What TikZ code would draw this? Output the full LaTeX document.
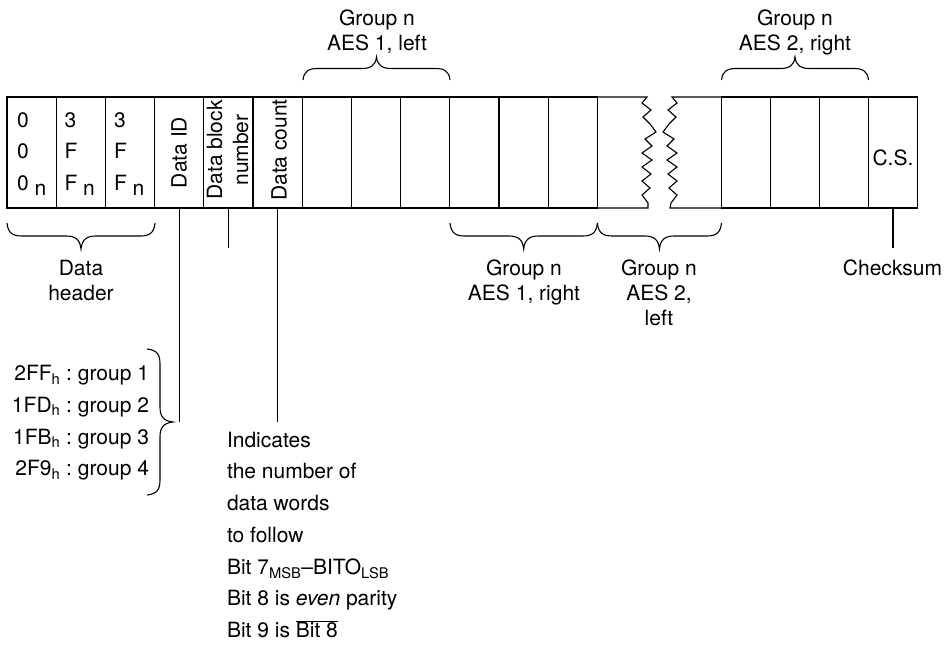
\documentclass[tikz,border=0pt]{standalone}
\usepackage{fontspec}
\setmainfont{TeX Gyre Heros}
\newcommand{\mystack}[2][0.962]{{\def\arraystretch{#1}\begin{tabular}[t]{@{}c@{}}#2\end{tabular}}}
\newcommand{\mystackl}[2][1.23]{{\def\arraystretch{#1}\begin{tabular}[t]{@{}l@{}}#2\end{tabular}}}
% horizontal brace: x1, x2, y of ends, signed height
\newcommand{\myhbrace}[4]{%
  \draw (#1,#3) .. controls ({#1+1},{#3+0.4*(#4)}) and ({#1+6},{#3+0.5*(#4)}) .. ({#1+15},{#3+0.5*(#4)})
   -- ({(#1+#2)/2-15},{#3+0.5*(#4)}) .. controls ({(#1+#2)/2-6},{#3+0.5*(#4)}) and ({(#1+#2)/2-1},{#3+0.62*(#4)}) .. ({(#1+#2)/2},{#3+(#4)})
   .. controls ({(#1+#2)/2+1},{#3+0.62*(#4)}) and ({(#1+#2)/2+6},{#3+0.5*(#4)}) .. ({(#1+#2)/2+15},{#3+0.5*(#4)})
   -- ({#2-15},{#3+0.5*(#4)}) .. controls ({#2-6},{#3+0.5*(#4)}) and ({#2-1},{#3+0.4*(#4)}) .. (#2,#3);}
% vertical brace: y1, y2, x of ends, signed width
\newcommand{\myvbrace}[4]{%
  \draw (#3,#1) .. controls ({#3+0.4*(#4)},{#1+1}) and ({#3+0.5*(#4)},{#1+6}) .. ({#3+0.5*(#4)},{#1+15})
   -- ({#3+0.5*(#4)},{(#1+#2)/2-15}) .. controls ({#3+0.5*(#4)},{(#1+#2)/2-6}) and ({#3+0.62*(#4)},{(#1+#2)/2-1}) .. ({#3+(#4)},{(#1+#2)/2})
   .. controls ({#3+0.62*(#4)},{(#1+#2)/2+1}) and ({#3+0.5*(#4)},{(#1+#2)/2+6}) .. ({#3+0.5*(#4)},{(#1+#2)/2+15})
   -- ({#3+0.5*(#4)},{#2-15}) .. controls ({#3+0.5*(#4)},{#2-6}) and ({#3+0.4*(#4)},{#2-1}) .. (#3,#2);}
\begin{document}
\begin{tikzpicture}[x=1pt,y=-1pt,line width=1.1pt,
  every node/.style={font=\fontsize{21}{26}\selectfont, inner sep=0pt, outer sep=0pt},
  cellbox/.style={draw, minimum width=49.2pt, minimum height=111pt, anchor=north west},
  cellboxb/.style={draw, minimum width=49pt, minimum height=111pt, anchor=north west},
  lbl/.style={anchor=base},
  vtext/.style={rotate=90, anchor=base}]
\useasboundingbox (0,0) rectangle (948,645);

% cells
\foreach \i/\nm in {0/h1,1/h2,2/h3,3/did,4/dbn,5/dcnt,6/a1,7/a2,8/a3,9/a4,10/a5,11/a6}
  \node[cellbox] (\nm) at ({7+\i*49.2},97) {};
\foreach \i/\nm in {0/b1,1/b2,2/b3,3/cs}
  \node[cellboxb] (\nm) at ({721.5+\i*49},97) {};

% broken cell
\draw (a6.north east) -- (647,97) -- (642,103) -- (651,110) -- (643,117) -- (650,124) -- (656,132)
  -- (645,139) -- (652,146) -- (642,153) -- (652,160) -- (642,167) -- (651,174) -- (642,181)
  -- (650,188) -- (642,195) -- (648,203) -- (648,208) -- (a6.south east);
\draw (b1.north west) -- (672,97) -- (677,103) -- (668,110) -- (676,117) -- (669,124) -- (663,132)
  -- (674,139) -- (667,146) -- (677,153) -- (667,160) -- (677,167) -- (668,174) -- (677,181)
  -- (669,188) -- (677,195) -- (671,203) -- (670,208) -- (b1.south west);

% cell texts
\node[anchor=base west] (t1) at (17,127) {\mystackl{0\\0\\0 \raisebox{-5pt}{n}}};
\node[anchor=base west] (t2) at (64.5,127) {\mystackl{3\\F\\F \raisebox{-5pt}{n}}};
\node[anchor=base west] (t3) at (114,127) {\mystackl{3\\F\\F \raisebox{-5pt}{n}}};
\node[vtext] (tid) at (186.7,152.5) {Data ID};
\node[vtext] (tdbn) at (222,150) {\mystack[1]{Data block\\number}};
\node[vtext] (tdc) at (286.5,150) {Data count};
\node[anchor=base west] (tcs) at (872.5,165) {C.S.};

% braces
\myhbrace{303}{450}{80}{-23}
\myhbrace{721.5}{868.5}{80}{-23}
\myhbrace{7}{155}{223}{26}
\myhbrace{450}{597.4}{223}{26}
\myhbrace{597.4}{721.5}{223}{26}
\myvbrace{349}{495}{147}{26}

% brace labels
\node[lbl] (lA) at (377,25) {\mystack{Group n\\AES 1, left}};
\node[lbl] (lB) at (795,25) {\mystack{Group n\\AES 2, right}};
\node[lbl] (lC) at (81,275) {\mystack{Data\\header}};
\node[lbl] (lD) at (524,275) {\mystack{Group n\\AES 1, right}};
\node[lbl] (lE) at (659,275) {\mystack{Group n\\AES 2,\\left}};
\node[lbl] (lF) at (892.5,275) {Checksum};

% groups list
\node[anchor=base west] (groups) at (12,380.7) {{\def\arraystretch{1.22}\begin{tabular}[t]{@{}r@{\ :\ }l@{}}
2FF\textsubscript{h} & group 1\\
1FD\textsubscript{h} & group 2\\
1FB\textsubscript{h} & group 3\\
2F9\textsubscript{h} & group 4\end{tabular}}};

% data count description
\node[anchor=base west] (desc) at (227,447) {\mystackl[1.223]{Indicates\\the number of\\data words\\to follow\\Bit 7\textsubscript{MSB}--BITO\textsubscript{LSB}\\Bit 8 is \emph{even} parity\\Bit 9 is $\overline{\mbox{Bit 8}}$}};

% connectors
\coordinate (didend) at (did.south |- 0,422);
\coordinate (dbnend) at (dbn.south |- 0,248);
\coordinate (dcntend) at (dcnt.south |- 0,422);
\coordinate (csend) at (cs.south |- 0,248);
\draw (did.south) -- (didend);
\draw (dbn.south) -- (dbnend);
\draw (dcnt.south) -- (dcntend);
\draw (cs.south) -- (csend);
\end{tikzpicture}
\end{document}
